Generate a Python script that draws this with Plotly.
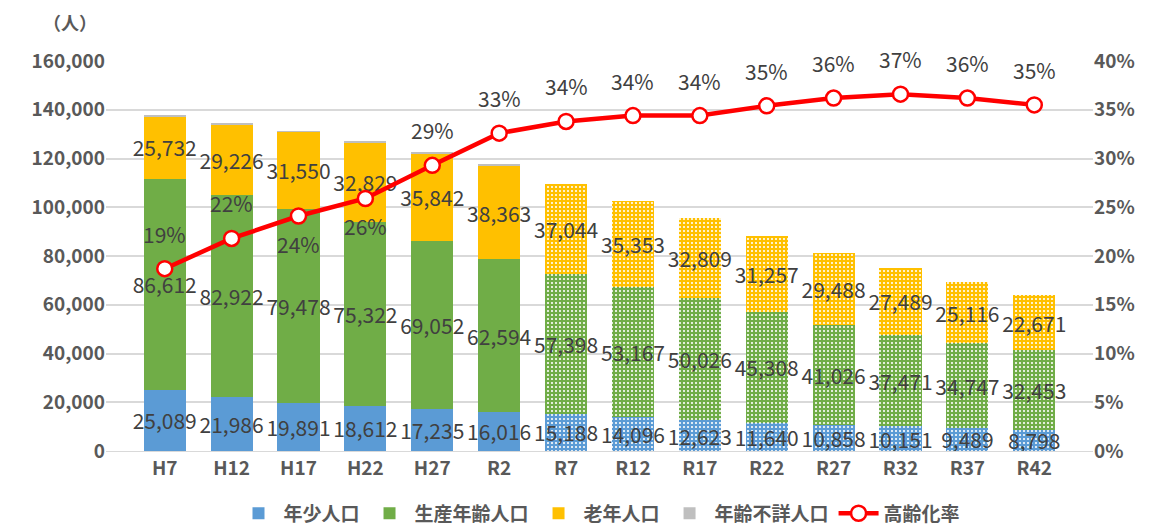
import plotly.graph_objects as go

years = ['H7', 'H12', 'H17', 'H22', 'H27', 'R2', 'R7', 'R12', 'R17', 'R22', 'R27', 'R32', 'R37', 'R42']
young = [25089, 21986, 19891, 18612, 17235, 16016, 15188, 14096, 12623, 11640, 10858, 10151, 9489, 8798]
working = [86612, 82922, 79478, 75322, 69052, 62594, 57398, 53167, 50026, 45308, 41026, 37471, 34747, 32453]
elderly = [25732, 29226, 31550, 32829, 35842, 38363, 37044, 35353, 32809, 31257, 29488, 27489, 25116, 22671]
unknown = [30, 60, 100, 120, 500, 700, 0, 0, 0, 0, 0, 0, 0, 0]
aging_rate = [0.187, 0.218, 0.241, 0.259, 0.293, 0.326, 0.338, 0.344, 0.344, 0.354, 0.362, 0.366, 0.362, 0.355]
rate_text = ['19%', '22%', '24%', '26%', '29%', '33%', '34%', '34%', '34%', '35%', '36%', '37%', '36%', '35%']
rate_below = [False, False, True, True] + [False] * 10

# projections (R7 onwards) drawn with a dotted pattern
shapes = [''] * 6 + ['.'] * 8

font = 'Noto Sans CJK JP'
label_color = '#404040'
axis_color = '#595959'

fig = go.Figure()


def add_bar(name, values, color, show_text=True):
    fig.add_trace(go.Bar(
        x=years, y=values, name=name,
        marker=dict(color=color, line=dict(width=0),
                    pattern=dict(shape=shapes, fgcolor='white', bgcolor=color,
                                 size=4, solidity=0.22, fillmode='replace')),
        text=[f'{v:,}' for v in values] if show_text else None,
        textposition='inside' if show_text else 'none',
        insidetextanchor='middle',
        textangle=0,
        constraintext='none',
        textfont=dict(family=font, size=21, color=label_color),
        hoverinfo='x+y+name',
    ))


add_bar('年少人口', young, '#5B9BD5')
add_bar('生産年齢人口', working, '#70AD47')
add_bar('老年人口', elderly, '#FFC000')
add_bar('年齢不詳人口', unknown, '#BFBFBF', show_text=False)

fig.add_trace(go.Scatter(
    x=years, y=aging_rate, name='高齢化率', yaxis='y2',
    mode='lines+markers',
    line=dict(color='#FF0000', width=4.5),
    marker=dict(size=15, color='white', line=dict(color='#FF0000', width=2.5)),
    cliponaxis=False,
))

# rate labels, offset from the markers like the original
rate_labels = [
    dict(x=x, y=y, xref='x', yref='y2', text=t, showarrow=False,
         yshift=-28 if below else 35,
         font=dict(family=font, size=21, color=label_color))
    for x, y, t, below in zip(years, aging_rate, rate_text, rate_below)
]

tick_font = dict(size=19, color=axis_color, family=font, weight='bold')

# the page body adds 8px of margin, so the figure is drawn 8px smaller
fig.update_layout(
    width=1150, height=523,
    barmode='stack', bargap=0.37,
    paper_bgcolor='white', plot_bgcolor='white',
    margin=dict(l=98, r=65, t=53, b=80, autoexpand=False),
    font=dict(family=font, size=16, color=axis_color),
    xaxis=dict(showgrid=False, showline=True, linecolor='#D9D9D9', linewidth=1,
               tickfont=tick_font),
    yaxis=dict(range=[0, 160000], dtick=20000, tickformat=',', showgrid=True,
               gridcolor='#D9D9D9', gridwidth=1.5, zeroline=False,
               tickfont=tick_font),
    yaxis2=dict(range=[0, 0.4], dtick=0.05, tickformat='.0%', overlaying='y', side='right',
                showgrid=False, zeroline=False, tickfont=tick_font),
    legend=dict(orientation='h', x=0.5, xanchor='center', y=-0.16, yanchor='middle',
                font=dict(size=19, color=axis_color, family=font, weight='bold'),
                traceorder='normal', itemwidth=40),
    annotations=rate_labels + [
        dict(text='（人）', xref='paper', yref='paper', x=-0.036, y=1.1,
             xanchor='center', yanchor='middle', showarrow=False,
             font=dict(size=18, color=axis_color, family=font, weight='bold'))],
)

fig.write_html('out.html')
